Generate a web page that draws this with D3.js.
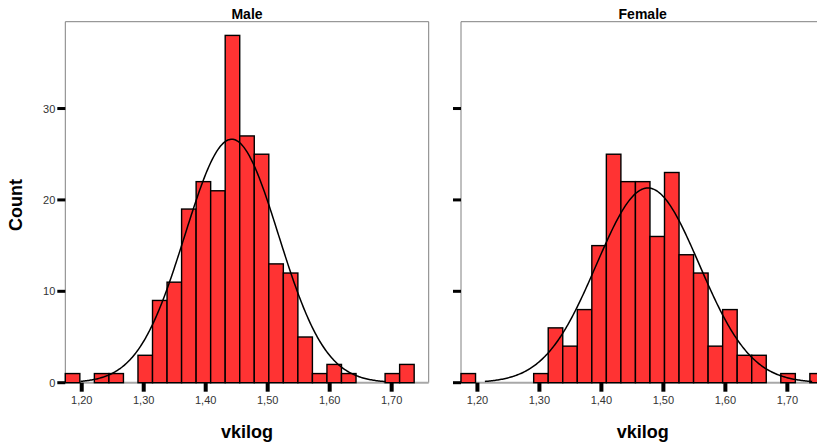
<!DOCTYPE html>
<html>
<head>
<meta charset="utf-8">
<script src="https://cdn.jsdelivr.net/npm/d3@7"></script>
<style>
  html, body { margin: 0; padding: 0; background: #fff; }
  svg { display: block; }
  text { font-family: "Liberation Sans", Arial, Helvetica, sans-serif; }
</style>
</head>
<body>
<svg id="chart" width="817" height="447"></svg>
<script>
// ---- data ----
const panels = ["Male", "Female"];
const binStart = 1.1735;
const binWidth = 0.02345;
const binCount = 25;
const maleCounts   = [1,0,1,1,0,3,9,11,19,22,21,38,27,25,13,12,5,1,2,1,0,0,1,2,0];
const femaleCounts = [1,0,0,0,0,1,6,4,8,15,25,22,22,16,23,14,12,4,8,3,3,0,1,0,1];
const maleFit   = { mean: 1.442, sd: 0.0755, n: 215, from: 1.198, to: 1.69 };
const femaleFit = { mean: 1.475, sd: 0.083,  n: 189, from: 1.212, to: 1.74 };
const xTicks = [1.20, 1.30, 1.40, 1.50, 1.60, 1.70];
const yTicks = [0, 10, 20, 30];
const yMax = 39.5;
const xTitle = "vkilog";
const yTitle = "Count";

// ---- layout ----
const svg = d3.select("#chart");
const plotTop = 21.7, plotBottom = 382.7, panelW = 363.4;
const panelLefts = [65.3, 461];
const y = d3.scaleLinear().domain([0, yMax]).range([plotBottom, plotTop]);

const datasets = [
  { name: panels[0], counts: maleCounts, fit: maleFit },
  { name: panels[1], counts: femaleCounts, fit: femaleFit }
];

datasets.forEach((ds, pi) => {
  const left = panelLefts[pi];
  const x = d3.scaleLinear()
    .domain([binStart, binStart + binWidth * binCount])
    .range([left, left + panelW]);
  const g = svg.append("g");

  // frame (left, top, right) and baseline
  g.append("path")
    .attr("d", `M${left},${plotBottom}V${plotTop}H${left + panelW}V${plotBottom}`)
    .attr("fill", "none").attr("stroke", "#808080").attr("stroke-width", 1);
  g.append("line")
    .attr("x1", left).attr("x2", left + panelW)
    .attr("y1", plotBottom).attr("y2", plotBottom)
    .attr("stroke", "#a8a8a8").attr("stroke-width", 2);

  // bars
  const bins = ds.counts.map((c, i) => ({ x0: binStart + i * binWidth, x1: binStart + (i + 1) * binWidth, c }));
  g.selectAll("rect.bar").data(bins.filter(b => b.c > 0)).join("rect")
    .attr("class", "bar")
    .attr("x", d => x(d.x0))
    .attr("width", d => x(d.x1) - x(d.x0))
    .attr("y", d => y(d.c))
    .attr("height", d => y(0) - y(d.c))
    .attr("fill", "#ff3333")
    .attr("stroke", "#000")
    .attr("stroke-width", 1.4);

  // normal curve
  const f = ds.fit;
  const pts = d3.range(0, 301).map(k => {
    const xv = f.from + (f.to - f.from) * k / 300;
    const z = (xv - f.mean) / f.sd;
    return [xv, f.n * binWidth / (f.sd * Math.sqrt(2 * Math.PI)) * Math.exp(-0.5 * z * z)];
  });
  g.append("path")
    .attr("d", d3.line().x(d => x(d[0])).y(d => y(d[1]))(pts))
    .attr("fill", "none").attr("stroke", "#000").attr("stroke-width", 1.5);

  // y ticks
  g.selectAll("rect.yt").data(yTicks).join("rect")
    .attr("class", "yt")
    .attr("x", left - 8).attr("width", 8)
    .attr("y", d => y(d) - 1.5).attr("height", 3)
    .attr("fill", "#000");
  if (pi === 0) {
    g.selectAll("text.yl").data(yTicks).join("text")
      .attr("class", "yl")
      .attr("x", left - 10).attr("y", d => y(d) + 4)
      .attr("text-anchor", "end")
      .attr("font-size", 11).attr("fill", "#333")
      .text(d => d);
  }

  // x ticks
  g.selectAll("rect.xt").data(xTicks).join("rect")
    .attr("class", "xt")
    .attr("x", d => x(d) - 2).attr("width", 4)
    .attr("y", plotBottom).attr("height", 9)
    .attr("fill", "#000");
  g.selectAll("text.xl").data(xTicks).join("text")
    .attr("class", "xl")
    .attr("x", d => x(d)).attr("y", 404)
    .attr("text-anchor", "middle")
    .attr("font-size", 11).attr("fill", "#333")
    .text(d => d3.format(".2f")(d).replace(".", ","));

  // panel title
  g.append("text")
    .attr("x", left + panelW / 2).attr("y", 18.5)
    .attr("text-anchor", "middle")
    .attr("font-size", 14).attr("font-weight", "bold").attr("fill", "#000")
    .text(ds.name);

  // x title
  g.append("text")
    .attr("x", left + panelW / 2).attr("y", 438)
    .attr("text-anchor", "middle")
    .attr("font-size", 18).attr("font-weight", "bold").attr("fill", "#000")
    .text(xTitle);
});

// y title
svg.append("text")
  .attr("transform", "translate(22,205) rotate(-90)")
  .attr("text-anchor", "middle")
  .attr("font-size", 18).attr("font-weight", "bold").attr("fill", "#000")
  .text(yTitle);
</script>
</body>
</html>
